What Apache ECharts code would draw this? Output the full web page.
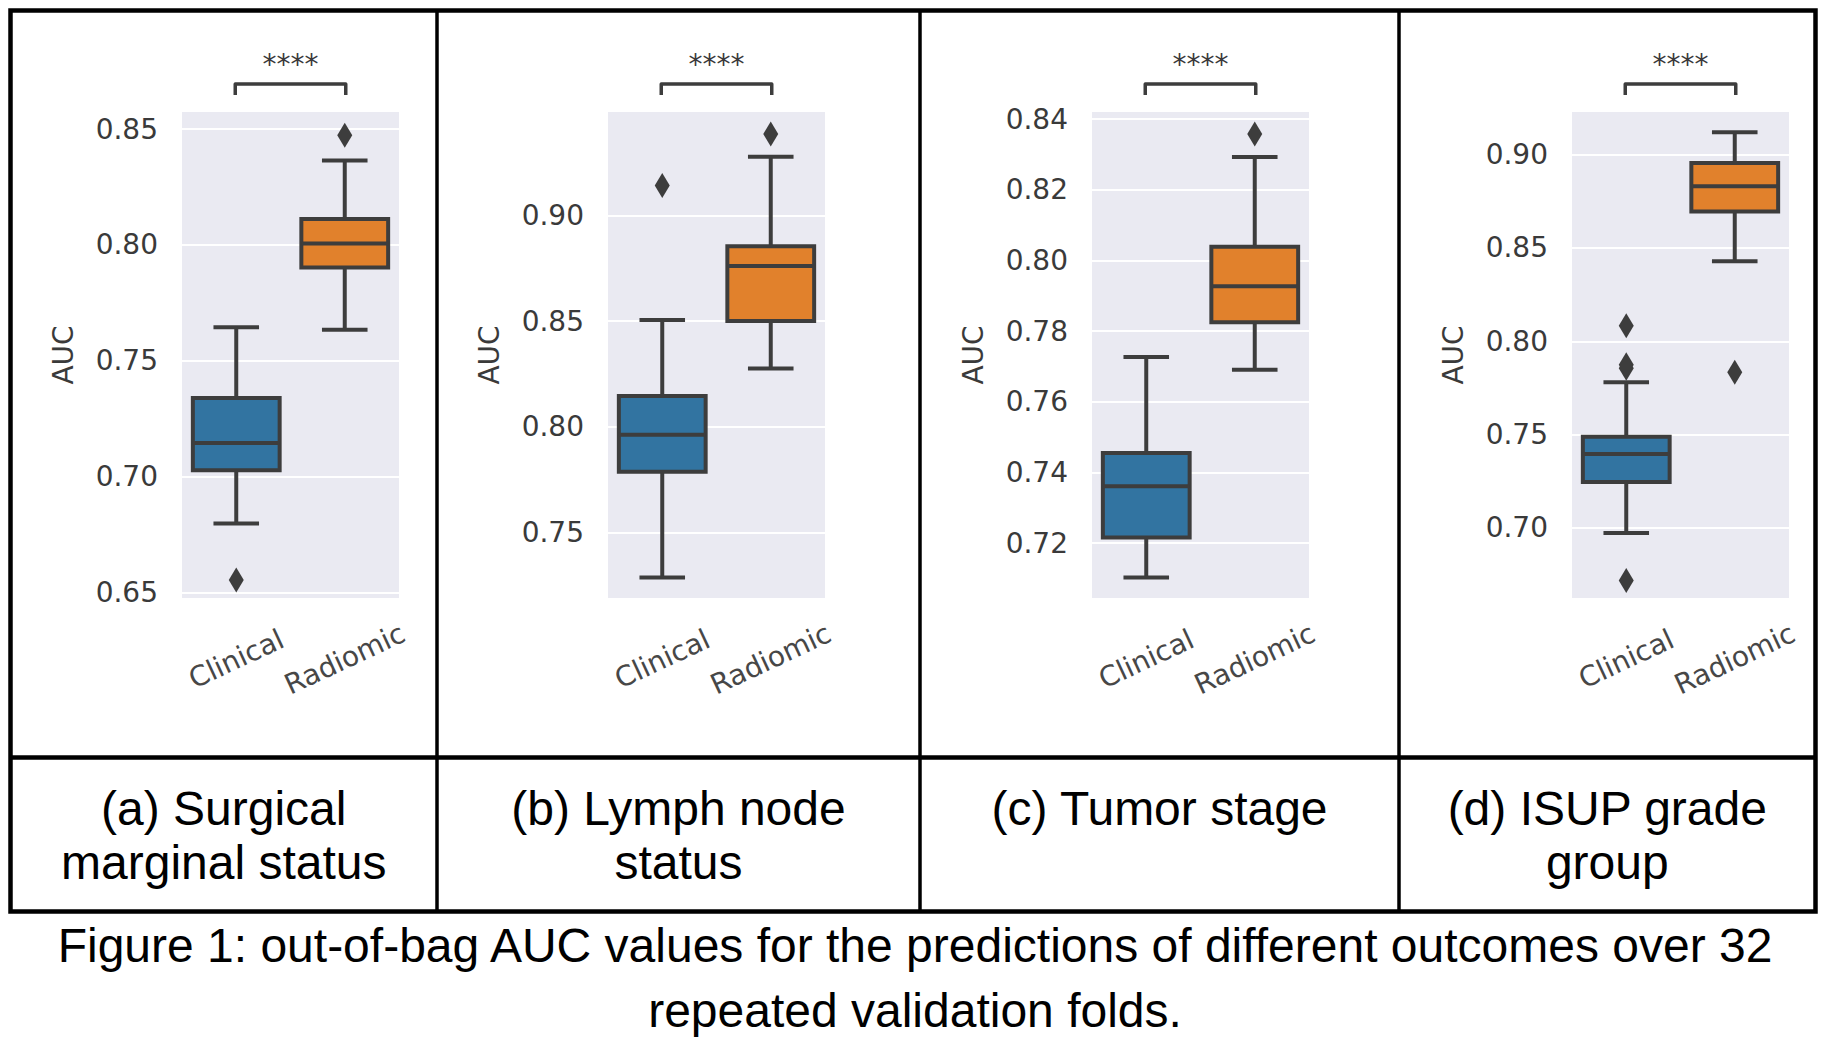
<!DOCTYPE html>
<html>
<head>
<meta charset="utf-8">
<script src="https://cdn.jsdelivr.net/npm/echarts@6/dist/echarts.min.js"></script>
<style>
html, body { margin: 0; padding: 0; background: #ffffff; }
#chart { width: 1830px; height: 1044px; }
</style>
</head>
<body>
<div id="chart"></div>
<script>
// ---------------- data ----------------
const categories = ['Clinical', 'Radiomic'];
const yAxisTitle = 'AUC';
const significanceLabel = '****';
const panelCaptions = [
  ['(a) Surgical', 'marginal status'],
  ['(b) Lymph node', 'status'],
  ['(c) Tumor stage'],
  ['(d) ISUP grade', 'group']
];
const figureCaption = [
  'Figure 1: out-of-bag AUC values for the predictions of different outcomes over 32',
  'repeated validation folds.'
];

// box summaries: [lower whisker, Q1, median, Q3, upper whisker]
const surgicalClinical = [0.6798, 0.7028, 0.7145, 0.7339, 0.7645];
const surgicalRadiomic = [0.7634, 0.7903, 0.8006, 0.8112, 0.8365];
const surgicalClinicalOutliers = [0.6554];
const surgicalRadiomicOutliers = [0.8474];
const surgicalTicks = [0.65, 0.70, 0.75, 0.80, 0.85];
const surgicalRange = [0.6476, 0.8574];

const lymphClinical = [0.7288, 0.7788, 0.7962, 0.8146, 0.8505];
const lymphRadiomic = [0.8276, 0.8500, 0.8760, 0.8854, 0.9276];
const lymphClinicalOutliers = [0.9141];
const lymphRadiomicOutliers = [0.9384];
const lymphTicks = [0.75, 0.80, 0.85, 0.90];
const lymphRange = [0.7191, 0.9488];

const tumorClinical = [0.7103, 0.7216, 0.7361, 0.7455, 0.7727];
const tumorRadiomic = [0.7691, 0.7825, 0.7927, 0.8039, 0.8293];
const tumorClinicalOutliers = [];
const tumorRadiomicOutliers = [0.8358];
const tumorTicks = [0.72, 0.74, 0.76, 0.78, 0.80, 0.82, 0.84];
const tumorRange = [0.7045, 0.8420];

const isupClinical = [0.6973, 0.7246, 0.7396, 0.7489, 0.7781];
const isupRadiomic = [0.8428, 0.8695, 0.8830, 0.8955, 0.9120];
const isupClinicalOutliers = [0.6719, 0.7855, 0.7874, 0.8083];
const isupRadiomicOutliers = [0.7834];
const isupTicks = [0.70, 0.75, 0.80, 0.85, 0.90];
const isupRange = [0.6625, 0.9228];

// ---------------- layout / style ----------------
const panels = [
  { clin: surgicalClinical, rad: surgicalRadiomic, clinOut: surgicalClinicalOutliers, radOut: surgicalRadiomicOutliers, ticks: surgicalTicks, range: surgicalRange },
  { clin: lymphClinical, rad: lymphRadiomic, clinOut: lymphClinicalOutliers, radOut: lymphRadiomicOutliers, ticks: lymphTicks, range: lymphRange },
  { clin: tumorClinical, rad: tumorRadiomic, clinOut: tumorClinicalOutliers, radOut: tumorRadiomicOutliers, ticks: tumorTicks, range: tumorRange },
  { clin: isupClinical, rad: isupRadiomic, clinOut: isupClinicalOutliers, radOut: isupRadiomicOutliers, ticks: isupTicks, range: isupRange }
];
const gridLefts = [182, 608, 1092, 1572];
const gridTop = 112, gridWidth = 217, gridHeight = 486;
const boxColors = ['#3274a1', '#e1812c'];
const lineColor = '#3d3d3d';
const textColor = '#3a3a3a';
const plotFont = '"DejaVu Sans", Verdana, sans-serif';
const docFont = '"Liberation Sans", Arial, Helvetica, sans-serif';

// table geometry
const tblLeft = 10.5, tblRight = 1815.5, tblTop = 10.5, tblBottom = 911.5, tblMid = 757.5;
const tblCols = [437, 920, 1399];

function boxRenderer(params, api) {
  const cat = api.value(0);
  const lo = api.coord([cat, api.value(1)]);
  const q1 = api.coord([cat, api.value(2)]);
  const med = api.coord([cat, api.value(3)]);
  const q3 = api.coord([cat, api.value(4)]);
  const hi = api.coord([cat, api.value(5)]);
  const band = api.size([1, 0])[0];
  const boxW = band * 0.8, capW = band * 0.42;
  const x = lo[0];
  const ls = { stroke: lineColor, lineWidth: 4, fill: null, lineCap: 'butt' };
  return {
    type: 'group',
    children: [
      { type: 'line', shape: { x1: x, y1: hi[1], x2: x, y2: q3[1] }, style: ls },
      { type: 'line', shape: { x1: x, y1: q1[1], x2: x, y2: lo[1] }, style: ls },
      { type: 'line', shape: { x1: x - capW / 2, y1: hi[1], x2: x + capW / 2, y2: hi[1] }, style: ls },
      { type: 'line', shape: { x1: x - capW / 2, y1: lo[1], x2: x + capW / 2, y2: lo[1] }, style: ls },
      { type: 'rect', shape: { x: x - boxW / 2, y: q3[1], width: boxW, height: q1[1] - q3[1] },
        style: { fill: boxColors[cat], stroke: lineColor, lineWidth: 4 } },
      { type: 'line', shape: { x1: x - boxW / 2, y1: med[1], x2: x + boxW / 2, y2: med[1] }, style: ls }
    ]
  };
}

function bracketRenderer(axisMax) {
  return function (params, api) {
    const p0 = api.coord([0, axisMax]);
    const p1 = api.coord([1, axisMax]);
    const top = p0[1];
    const yLine = top - 28, yEnd = top - 17;
    return {
      type: 'group',
      children: [
        { type: 'polyline',
          shape: { points: [[p0[0] - 1, yEnd], [p0[0] - 1, yLine], [p1[0] + 1, yLine], [p1[0] + 1, yEnd]] },
          style: { stroke: lineColor, lineWidth: 3.5, fill: null, lineJoin: 'round' } },
        { type: 'text', x: (p0[0] + p1[0]) / 2, y: top - 48,
          style: { text: significanceLabel, fontSize: 28, fontFamily: plotFont, fill: '#3a3a3a',
                   align: 'center', verticalAlign: 'middle' } }
      ]
    };
  };
}

const grids = [], xAxes = [], yAxes = [], series = [];
panels.forEach((p, i) => {
  grids.push({ left: gridLefts[i], top: gridTop, width: gridWidth, height: gridHeight,
               show: true, backgroundColor: '#eaeaf2', borderWidth: 0 });
  xAxes.push({
    type: 'category', gridIndex: i, data: categories,
    axisLine: { show: false }, axisTick: { show: false }, splitLine: { show: false },
    axisLabel: { interval: 0, rotate: 25, align: 'center', verticalAlign: 'middle', margin: 61,
                 fontSize: 28, fontFamily: plotFont, color: '#474747' }
  });
  yAxes.push({
    type: 'value', gridIndex: i, min: p.range[0], max: p.range[1],
    name: yAxisTitle, nameLocation: 'middle', nameGap: 105,
    nameTextStyle: { fontSize: 28, fontFamily: plotFont, color: textColor },
    axisLine: { show: false },
    axisTick: { show: false, customValues: p.ticks },
    axisLabel: { customValues: p.ticks, formatter: v => Number(v).toFixed(2), margin: 24,
                 fontSize: 28, fontFamily: plotFont, color: textColor },
    splitLine: { show: true, lineStyle: { color: '#ffffff', width: 2 } }
  });
  series.push({
    type: 'custom', xAxisIndex: i, yAxisIndex: i, silent: true, z: 3,
    encode: { x: 0, y: [1, 2, 3, 4, 5] },
    data: [[0].concat(p.clin), [1].concat(p.rad)],
    renderItem: boxRenderer
  });
  series.push({
    type: 'scatter', xAxisIndex: i, yAxisIndex: i, silent: true, z: 4,
    symbol: 'diamond', symbolSize: [15, 25],
    itemStyle: { color: lineColor, opacity: 1 },
    data: p.clinOut.map(v => [0, v]).concat(p.radOut.map(v => [1, v]))
  });
  series.push({
    type: 'custom', xAxisIndex: i, yAxisIndex: i, silent: true, z: 5, clip: false,
    encode: { x: 0, y: 1 },
    data: [[0, p.range[1]]],
    renderItem: bracketRenderer(p.range[1])
  });
});

// table lines and caption texts
const graphics = [];
graphics.push({ type: 'rect', shape: { x: tblLeft, y: tblTop, width: tblRight - tblLeft, height: tblBottom - tblTop },
                style: { fill: null, stroke: '#000', lineWidth: 4.5 }, z: 10 });
graphics.push({ type: 'line', shape: { x1: tblLeft, y1: tblMid, x2: tblRight, y2: tblMid },
                style: { stroke: '#000', lineWidth: 4.5 }, z: 10 });
tblCols.forEach(cx => graphics.push({ type: 'line', shape: { x1: cx, y1: tblTop, x2: cx, y2: tblBottom },
                style: { stroke: '#000', lineWidth: 3.5 }, z: 10 }));
const cellEdges = [tblLeft].concat(tblCols, [tblRight]);
panelCaptions.forEach((lines, i) => {
  const cx = (cellEdges[i] + cellEdges[i + 1]) / 2;
  lines.forEach((t, j) => graphics.push({
    type: 'text', x: cx, y: 808 + j * 54, z: 10,
    style: { text: t, fontSize: 48, fontFamily: docFont, fill: '#000', align: 'center', verticalAlign: 'middle' }
  }));
});
figureCaption.forEach((t, j) => graphics.push({
  type: 'text', x: 915, y: 945 + j * 65, z: 10,
  style: { text: t, fontSize: 48, fontFamily: docFont, fill: '#000', align: 'center', verticalAlign: 'middle' }
}));

const chart = echarts.init(document.getElementById('chart'), null, { renderer: 'svg' });
chart.setOption({
  animation: false,
  backgroundColor: '#ffffff',
  grid: grids,
  xAxis: xAxes,
  yAxis: yAxes,
  series: series,
  graphic: { elements: graphics }
});
</script>
</body>
</html>
